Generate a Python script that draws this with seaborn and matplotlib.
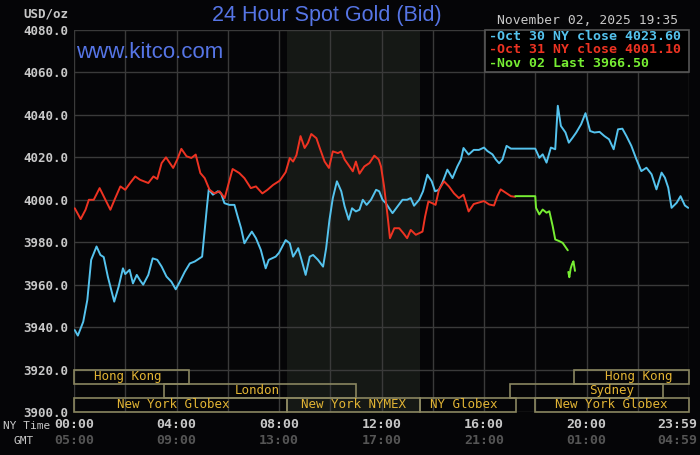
import numpy as np
import pandas as pd
import matplotlib
matplotlib.use("Agg")
import matplotlib.pyplot as plt
from matplotlib.patches import Rectangle
from matplotlib.transforms import blended_transform_factory
import seaborn as sns

# ---------------- data ----------------
oct30_hours = [0.03, 0.15, 0.36, 0.52, 0.67, 0.88, 1.03, 1.16, 1.32, 1.57, 1.74, 1.91, 2.0, 2.17, 2.3,
               2.45, 2.58, 2.7, 2.9, 3.07, 3.25, 3.42, 3.61, 3.8, 3.97, 4.13, 4.32, 4.52, 4.71, 4.9,
               5.0, 5.1, 5.19, 5.26, 5.42, 5.61, 5.74, 5.87, 6.06, 6.26, 6.39, 6.52, 6.65, 6.77, 6.94,
               7.1, 7.29, 7.48, 7.6, 7.87, 8.0, 8.26, 8.42, 8.55, 8.75, 8.88, 9.04, 9.2, 9.33, 9.52,
               9.72, 9.84, 9.97, 10.1, 10.26, 10.43, 10.56, 10.72, 10.85, 11.0, 11.14, 11.27, 11.42,
               11.59, 11.79, 11.91, 12.04, 12.17, 12.3, 12.43, 12.63, 12.82, 13.0, 13.14, 13.27, 13.47,
               13.62, 13.79, 13.96, 14.09, 14.24, 14.37, 14.57, 14.77, 14.96, 15.1, 15.2, 15.4, 15.6,
               15.8, 16.0, 16.13, 16.33, 16.46, 16.59, 16.72, 16.88, 17.05, 18.0, 18.16, 18.29, 18.44,
               18.61, 18.78, 18.88, 19.0, 19.18, 19.31, 19.46, 19.6, 19.79, 19.96, 20.14, 20.31, 20.51,
               20.7, 20.88, 21.06, 21.23, 21.4, 21.56, 21.75, 21.95, 22.14, 22.34, 22.54, 22.73, 22.93,
               23.06, 23.19, 23.32, 23.52, 23.67, 23.84, 23.97]
oct30_prices = [3938.6, 3936.0, 3942.5, 3952.8, 3971.7, 3978.0, 3974.0, 3973.0, 3963.8, 3952.0, 3959.0,
                3967.7, 3965.0, 3967.0, 3960.6, 3964.6, 3962.0, 3960.0, 3964.6, 3972.4, 3971.7, 3968.5,
                3963.8, 3961.4, 3957.8, 3961.4, 3966.0, 3970.0, 3970.9, 3972.4, 3973.2, 3985.8, 3996.9,
                4005.0, 4002.4, 4004.0, 4003.0, 3998.4, 3997.6, 3997.6, 3992.0, 3986.6, 3979.5, 3981.9,
                3985.0, 3981.9, 3976.4, 3967.7, 3971.7, 3973.2, 3975.0, 3981.0, 3979.5, 3973.2, 3977.2,
                3971.7, 3964.6, 3973.2, 3974.0, 3971.7, 3968.5, 3977.2, 3990.6, 4000.8, 4008.7, 4004.0,
                3996.9, 3990.6, 3996.0, 3994.5, 3995.3, 4000.0, 3997.6, 4000.0, 4004.7, 4004.0, 4000.0,
                3998.4, 3996.0, 3993.7, 3996.9, 4000.0, 4000.0, 4000.8, 3997.2, 4000.0, 4004.0, 4011.8,
                4008.7, 4004.0, 4004.7, 4007.9, 4014.2, 4010.2, 4015.7, 4019.0, 4024.4, 4021.3, 4023.5,
                4023.5, 4024.6, 4023.0, 4021.4, 4019.0, 4017.2, 4019.0, 4025.4, 4024.1, 4024.1, 4019.8,
                4021.4, 4017.5, 4024.6, 4023.8, 4044.3, 4034.8, 4031.7, 4026.9, 4029.3, 4031.7, 4035.6,
                4040.8, 4032.4, 4031.7, 4032.0, 4030.0, 4028.5, 4023.8, 4033.2, 4033.5, 4030.0, 4025.4,
                4019.0, 4013.5, 4015.1, 4012.0, 4004.9, 4012.8, 4010.4, 4005.7, 3996.2, 3998.6, 4001.7,
                3997.3, 3996.2]

oct31_hours = [0.03, 0.26, 0.45, 0.58, 0.77, 1.0, 1.16, 1.42, 1.61, 1.81, 2.0, 2.19, 2.39, 2.58, 2.9,
               3.1, 3.25, 3.42, 3.59, 3.74, 3.87, 4.03, 4.19, 4.39, 4.58, 4.75, 4.93, 5.1, 5.29, 5.48,
               5.68, 5.88, 6.04, 6.19, 6.45, 6.65, 6.9, 7.1, 7.35, 7.55, 7.77, 8.03, 8.26, 8.42, 8.55,
               8.68, 8.84, 9.0, 9.13, 9.26, 9.46, 9.59, 9.78, 9.95, 10.1, 10.3, 10.43, 10.56, 10.75,
               10.88, 11.0, 11.14, 11.33, 11.53, 11.72, 11.89, 11.98, 12.1, 12.24, 12.33, 12.5, 12.69,
               12.85, 13.0, 13.14, 13.34, 13.6, 13.7, 13.83, 13.98, 14.11, 14.24, 14.44, 14.63, 14.83,
               15.02, 15.2, 15.4, 15.6, 15.77, 16.0, 16.2, 16.39, 16.52, 16.65, 16.85, 17.05, 17.22]
oct31_prices = [3996.0, 3990.9, 3995.3, 4000.0, 4000.0, 4005.5, 4001.6, 3995.3, 4000.8, 4006.3, 4004.7,
                4007.9, 4011.0, 4009.4, 4007.9, 4011.0, 4009.8, 4017.3, 4020.0, 4017.3, 4015.0, 4019.0,
                4024.0, 4020.5, 4019.7, 4021.3, 4012.6, 4010.2, 4004.7, 4003.0, 4004.0, 4000.8, 4007.9,
                4014.5, 4012.6, 4010.2, 4005.5, 4006.3, 4003.0, 4004.7, 4007.0, 4009.0, 4013.0, 4019.7,
                4018.0, 4021.0, 4030.0, 4024.4, 4026.8, 4031.0, 4029.0, 4024.4, 4018.0, 4015.0, 4022.8,
                4022.0, 4022.8, 4019.0, 4015.7, 4013.4, 4018.0, 4012.3, 4015.7, 4017.3, 4020.8, 4019.0,
                4015.7, 4006.3, 3992.1, 3981.9, 3986.6, 3986.6, 3984.3, 3981.9, 3985.8, 3983.5, 3985.0,
                3992.0, 3999.2, 3998.4, 3997.6, 4004.7, 4008.7, 4006.3, 4003.0, 4000.8, 4002.4, 3994.5,
                3998.0, 3998.6, 3999.4, 3997.8, 3997.3, 4001.7, 4004.9, 4003.3, 4001.7, 4001.4]

nov02_hours_a = [17.22, 18.0, 18.03, 18.16, 18.29, 18.44, 18.55, 18.68, 18.78, 18.94, 19.07, 19.27]
nov02_prices_a = [4001.7, 4001.7, 3996.2, 3993.1, 3995.4, 3993.9, 3994.6, 3987.6, 3981.3, 3980.5,
                  3979.7, 3976.2]
nov02_hours_b = [19.29, 19.33, 19.38, 19.44, 19.49, 19.55]
nov02_prices_b = [3966.0, 3963.5, 3967.5, 3969.8, 3971.0, 3966.5]

y_ticks = [3900, 3920, 3940, 3960, 3980, 4000, 4020, 4040, 4060, 4080]
grid_hours = [0, 2, 4, 6, 8, 10, 12, 14, 16, 18, 20, 22, 24]
ny_time_labels = ["00:00", "04:00", "08:00", "12:00", "16:00", "20:00", "23:59"]
gmt_labels = ["05:00", "09:00", "13:00", "17:00", "21:00", "01:00", "04:59"]
label_hours = [0, 4, 8, 12, 16, 20, 23.55]

legend_texts = ["-Oct 30 NY close 4023.60", "-Oct 31 NY close 4001.10", "-Nov 02 Last 3966.50"]

sess_names = ["Hong Kong", "London", "New York Globex", "New York NYMEX", "NY Globex",
              "Sydney", "Hong Kong", "New York Globex"]
sess_start = [0.0, 3.5, 0.0, 8.33, 13.5, 17.0, 19.5, 18.0]
sess_end = [4.5, 11.0, 8.33, 13.5, 17.25, 23.0, 24.0, 24.0]
sess_row = [0, 1, 2, 2, 2, 1, 0, 2]
sess_label_x = [2.1, 7.14, 3.86, 10.9, 15.2, 21.0, 22.05, 20.96]

# ---------------- style ----------------
BG = "#050507"
GRID = "#3a3a3a"
BLUE = "#55c3ee"
RED = "#ee3322"
GREEN = "#77ee33"
LIGHT = "#c8c8c8"
DARK = "#555555"
SESS_EDGE = "#8a8660"
SESS_TEXT = "#e2b434"
TITLE_BLUE = "#5675e6"

sns.set_theme(style="dark", rc={"axes.facecolor": BG, "figure.facecolor": BG})
plt.rcParams["font.family"] = ["DejaVu Sans Mono", "DejaVu Sans"]

fig = plt.figure(figsize=(7.0, 4.55), dpi=100)
fig.patch.set_facecolor(BG)
ax = fig.add_axes([74 / 700, 43 / 455, 615 / 700, 382 / 455])
ax.set_facecolor(BG)

# NYMEX shaded period
ax.axvspan(8.33, 13.5, color="#151815", zorder=0.5, lw=0)

df_blue = pd.DataFrame({"hour": oct30_hours, "price": oct30_prices})
df_red = pd.DataFrame({"hour": oct31_hours, "price": oct31_prices})
df_ga = pd.DataFrame({"hour": nov02_hours_a, "price": nov02_prices_a})
df_gb = pd.DataFrame({"hour": nov02_hours_b, "price": nov02_prices_b})

for d, c in [(df_blue, BLUE), (df_red, RED), (df_ga, GREEN), (df_gb, GREEN)]:
    sns.lineplot(data=d, x="hour", y="price", ax=ax, color=c, linewidth=1.4,
                 estimator=None, zorder=3)

ax.set_xlim(0, 24)
ax.set_ylim(3900, 4080)
ax.set_xlabel("")
ax.set_ylabel("")

# grid via minor ticks (keep minor ticks even where they coincide with majors)
ax.xaxis.remove_overlapping_locs = False
ax.yaxis.remove_overlapping_locs = False
ax.set_xticks(grid_hours, minor=True)
ax.set_yticks(y_ticks, minor=True)
ax.grid(which="minor", color=GRID, linewidth=1.0, zorder=1)
ax.grid(which="major", visible=False)
ax.set_axisbelow(True)

ax.set_xticks(label_hours)
ax.set_xticklabels(ny_time_labels, color=LIGHT, fontsize=9.5, fontweight="bold")
ax.set_yticks(y_ticks)
ax.set_yticklabels([f"{v:.1f}" for v in y_ticks], color=LIGHT, fontsize=9, fontweight="bold")
ax.tick_params(axis="both", which="both", length=0)
ax.tick_params(axis="x", pad=4.5)
ax.tick_params(axis="y", pad=4.3)
for s in ax.spines.values():
    s.set_visible(False)

trans = blended_transform_factory(ax.transData, ax.transAxes)
for h, g in zip(label_hours, gmt_labels):
    ax.text(h, -0.0759, g, transform=trans, ha="center", va="center",
            color=DARK, fontsize=9.5, fontweight="bold")

# sessions
row_h = 20 / 3
for name, s, e, r, lx in zip(sess_names, sess_start, sess_end, sess_row, sess_label_x):
    y0 = 3920 - (r + 1) * row_h
    ax.add_patch(Rectangle((s, y0), e - s, row_h, fill=False, edgecolor=SESS_EDGE,
                           linewidth=1.2, zorder=4, clip_on=False))
    ax.text(lx, y0 + row_h / 2, name, ha="center", va="center", color=SESS_TEXT,
            fontsize=9, zorder=5)

# legend box
ax.add_patch(Rectangle((16.04, 4060), 24 - 16.04, 20, facecolor="#000000",
                       edgecolor="#555555", linewidth=1.2, zorder=6, clip_on=False))
for txt, c, yy in zip(legend_texts, [BLUE, RED, GREEN], [4077.0, 4070.6, 4064.2]):
    ax.text(16.2, yy, txt, ha="left", va="center", color=c, fontsize=9.5,
            fontweight="bold", zorder=7)

# figure texts
fig.text(497 / 700, 1 - 20 / 455, "November 02, 2025 19:35", ha="left", va="center",
         color=LIGHT, fontsize=9.4)
fig.text(327 / 700, 1 - 16 / 455, "24 Hour Spot Gold (Bid)", ha="center", va="center",
         color=TITLE_BLUE, fontsize=15.5, family="Liberation Sans")
fig.text(76 / 700, 1 - 53 / 455, "www.kitco.com", ha="left", va="center",
         color=TITLE_BLUE, fontsize=16, family="Liberation Sans")
fig.text(68 / 700, 1 - 14 / 455, "USD/oz", ha="right", va="center", color=LIGHT,
         fontsize=9, fontweight="bold")
fig.text(27 / 700, 1 - 426 / 455, "NY Time", ha="center", va="center", color=LIGHT,
         fontsize=8)
fig.text(24 / 700, 1 - 441 / 455, "GMT", ha="center", va="center", color=LIGHT,
         fontsize=8)

fig.savefig("out.png", dpi=100, facecolor=BG)
